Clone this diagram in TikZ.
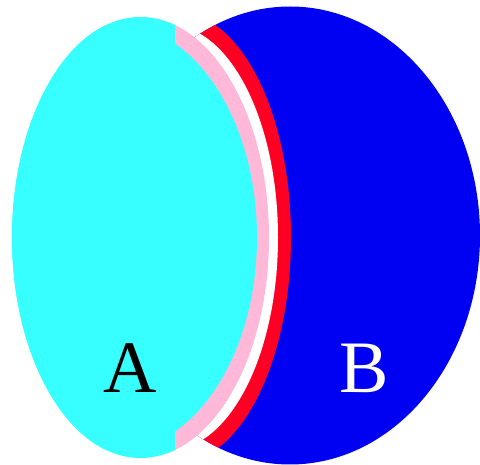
\documentclass[tikz,border=0pt]{standalone}
\usepackage{fontspec}
\setmainfont{Liberation Serif}
\usetikzlibrary{positioning}
\definecolor{VennCyan}{HTML}{38FFFF}
\definecolor{VennBlue}{HTML}{0000F2}
\definecolor{VennRed}{HTML}{FF0025}
\definecolor{VennPink}{HTML}{FFB8D8}
\tikzset{
  setlabel/.style={font=\fontsize{74}{74}\selectfont, anchor=base, inner sep=0pt},
}

\begin{document}
\begin{tikzpicture}[x=1pt, y=-1pt]
  \tikzset{
    setB/.style={fill=VennBlue},
    band/.style={fill=VennRed},
    gap/.style={fill=white},
  }
  \useasboundingbox (0,0) rectangle (480,465);
  \fill[white] (0,0) rectangle (480,465);

  % set B and the red band cut out of it
  \fill[setB] (290,235.5) ellipse [x radius=190, y radius=229];
  \begin{scope}
    \clip (290,235.5) ellipse [x radius=190, y radius=229];
    \fill[band] (178,237.5) ellipse [x radius=113, y radius=225];
    \fill[gap] (169,237.5) ellipse [x radius=109, y radius=212.5];
  \end{scope}

  % set A: pink rim, cyan body
  \begin{scope}
    \clip (140.5,237.5) ellipse [x radius=128.5, y radius=220.5];
    \fill[VennPink] (175,0) rectangle (300,465);
    \fill[VennCyan] (0,0) rectangle (175,465);
    \fill[VennCyan] (117,237.5) ellipse [x radius=140, y radius=213];
  \end{scope}

  \node[setlabel] (labelA) at (130,393) {A};
  \node[setlabel, text=white] (labelB) at (364,393) {B};
\end{tikzpicture}
\end{document}
